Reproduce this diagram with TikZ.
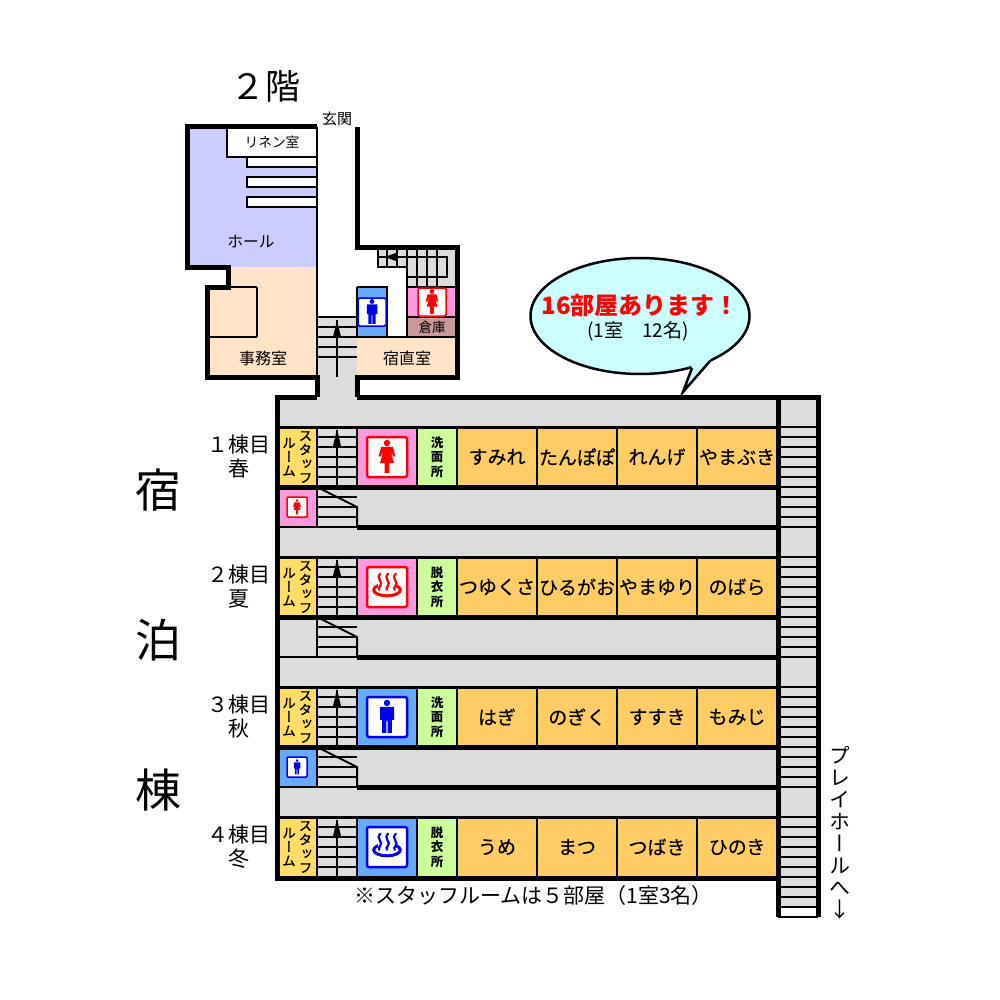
\documentclass[tikz,border=0pt]{standalone}
\usepackage{fontspec}
\usetikzlibrary{shapes.geometric}
\setmainfont{Noto Sans CJK JP}
\newfontfamily\vfont[RawFeature=+vert]{Noto Sans CJK JP}
\newfontfamily\vmedfont[RawFeature=+vert,FakeBold=1.2]{Noto Sans CJK JP}
\newfontfamily\medfont[FakeBold=0.4]{Noto Sans CJK JP}
\definecolor{hallc}{HTML}{CCCCFF}
\definecolor{peach}{HTML}{FFE4C8}
\definecolor{grayc}{HTML}{DCDCDC}
\definecolor{pinkc}{HTML}{FF99DD}
\definecolor{bluec}{HTML}{66AAFF}
\definecolor{brownc}{HTML}{CC9999}
\definecolor{yellowc}{HTML}{FFDD66}
\definecolor{greenc}{HTML}{CCFF99}
\definecolor{roomc}{HTML}{FFCC66}
\definecolor{balloonc}{HTML}{CCFFFF}
\definecolor{iconblue}{HTML}{0000EE}
\definecolor{iconred}{HTML}{FF0000}
\tikzset{
  wall/.style={line width=5pt,line cap=butt,line join=miter},
  mid/.style={line width=3pt},
  thin line/.style={line width=2pt},
  lbl/.style={inner sep=0pt,align=center,text=black,execute at begin node={\lineskiplimit=-30pt\relax}},
  roomlbl/.style={lbl,font=\medfont\fontsize{19}{19}\selectfont},
  wash/.style={lbl,font=\bfseries\fontsize{12.5}{14.5}\selectfont},
  staff/.style={lbl,font=\vmedfont\fontsize{13.5}{14}\selectfont},
  floorlbl/.style={lbl,font=\fontsize{21}{24}\selectfont},
  kanji/.style={lbl,font=\fontsize{46}{46}\selectfont},
  woman/.pic={
    \fill (0,-1) circle (.23);
    \fill (-.42,-.72) -- (.42,-.72) -- (.6,-.05) -- (.46,-.03) -- (.27,-.42) -- (.5,.43) -- (.17,.43) -- (.17,1.14) -- (-.17,1.14) -- (-.17,.43) -- (-.5,.43) -- (-.27,-.42) -- (-.46,-.03) -- (-.6,-.05) -- cycle;
  },
  man/.pic={
    \fill (0,-1) circle (.23);
    \fill[rounded corners=.06] (-.5,-.72) -- (.5,-.72) -- (.5,.2) -- (.34,.2) -- (.34,1.14) -- (.04,1.14) -- (.04,.3) -- (-.04,.3) -- (-.04,1.14) -- (-.34,1.14) -- (-.34,.2) -- (-.5,.2) -- cycle;
  },
  onsen/.pic={
    \draw[line width=3pt] (0,.21) ellipse [x radius=.95,y radius=.42];
    \fill[white] (-.62,-.4) rectangle (.62,-.02);
    \foreach \dx in {-.55,0,.55}{
      \draw[line width=2.2pt,line cap=round] (\dx+.08,-.95) .. controls (\dx-.3,-.6) and (\dx+.35,-.35) .. (\dx+.05,-.05) .. controls (\dx-.05,.05) .. (\dx,.2);
    }
  },
}
\newcommand{\floorrow}[6]{%
  % #1 top y, #2 label, #3 fill, #4 icon pic, #5 icon colour, #6 wash label
  \fill[yellowc] (278,#1) rectangle (317,#1+60);
  \fill[grayc] (317,#1) rectangle (357,#1+60);
  \fill[#3] (357,#1) rectangle (417,#1+60);
  \fill[greenc] (417,#1) rectangle (457,#1+60);
  \fill[roomc] (457,#1) rectangle (777,#1+60);
  \foreach \dy in {10,20,...,50}{\draw[thin line] (317,#1+\dy) -- (357,#1+\dy);}
  \draw[thin line] (337,#1+3) -- (337,#1+60);
  \fill (337,#1+2) -- (341,#1+19) -- (333,#1+19) -- cycle;
  \foreach \x in {317,357,417,457,537,617,697}{\draw[thin line] (\x,#1) -- (\x,#1+60);}
  \node[staff] (st#1) at (305.5,#1+30) {ス\\タ\\ッ\\フ};
  \node[staff] (ru#1) at (289,#1+30) {ル\\ー\\ム};
  \draw[line width=2.5pt,#5,fill=white,rounded corners=2pt] (367,#1+10) rectangle (407,#1+50);
  \pic[#5,scale=14] at (387,#1+30) {#4};
  \node[wash] (wa#1) at (437,#1+30) {#6};
  \node[floorlbl] (fl#1) at (239,#1+30) {#2};
}
\begin{document}
\begin{tikzpicture}[x=1pt,y=-1pt]
\useasboundingbox (0,0) rectangle (1000,1000);
\fill[white] (0,0) rectangle (1000,1000);
%% ---------- second floor ----------
\fill[hallc] (187,127) rectangle (317,267);
\fill[peach] (228,267) rectangle (317,287);
\fill[peach] (207,287) rectangle (317,377);
\fill[peach] (357,337) rectangle (457,377);
\fill[grayc] (317,317) rectangle (357,397);
\fill[grayc] (378,247) rectangle (457,267);
\fill[grayc] (407,247) rectangle (457,287);
\fill[pinkc] (407,287) rectangle (457,317);
\fill[brownc] (407,317) rectangle (457,337);
\fill[bluec] (357,287) rectangle (387,337);
% linen room and shelves
\draw[thin line,fill=white] (317,127) -- (227,127) -- (227,157) -- (317,157);
\foreach \y in {157,177,197}{\draw[thin line,fill=white] (317,\y) -- (247,\y) -- (247,\y+10) -- (317,\y+10);}
% thin partitions
\draw[thin line] (317,127) -- (317,377);
\draw[thin line] (207,337) -- (257,337);
\draw[thin line] (257,287) -- (257,337);
\draw[thin line] (207,287) -- (257,287);
\draw[thin line] (357,337) -- (457,337);
\draw[thin line] (357,287) -- (387,287) -- (387,337);
\draw[thin line] (357,287) -- (357,337);
\draw[thin line] (407,247) -- (407,337);
\draw[thin line] (407,287) -- (457,287);
\draw[thin line] (407,317) -- (457,317);
% central stairs
\foreach \y in {317,327,337,347,357}{\draw[thin line] (317,\y) -- (357,\y);}
\draw[thin line] (337,320) -- (337,377);
\fill (337,320) -- (341,337) -- (333,337) -- cycle;
% upper right stairs
\draw[thin line] (378,247) -- (378,267) -- (407,267);
\draw[thin line] (378,257) -- (447,257) -- (447,277) -- (407,277);
\foreach \x in {387,397}{\draw[thin line] (\x,247) -- (\x,267);}
\foreach \x in {417,427,437}{\draw[thin line] (\x,247) -- (\x,287);}
\fill (385,257) -- (397,252.5) -- (397,261.5) -- cycle;
% outer walls
\draw[wall] (317,127) -- (187,127) -- (187,267) -- (228,267) -- (228,287) -- (207,287) -- (207,377) -- (317,377) -- (317,397);
\draw[wall] (357,127) -- (357,247) -- (457,247) -- (457,377) -- (357,377) -- (357,397);
% icons
\draw[line width=1.5pt,iconblue,fill=white,rounded corners=1.5pt] (358,298) rectangle (386,326);
\pic[iconblue,scale=10.5] at (372,312) {man};
\draw[line width=1.5pt,iconred,fill=white,rounded corners=1.5pt] (418,288) rectangle (446,316);
\pic[iconred,scale=10.5] at (432,302) {woman};
%% ---------- lodging wing ----------
\fill[grayc] (278,397) rectangle (778,877);
\fill[grayc] (778,397) rectangle (818,907);
\floorrow{427}{１棟目\\春}{pinkc}{woman}{iconred}{洗\\面\\所}
\floorrow{557}{２棟目\\夏}{pinkc}{onsen}{iconred}{脱\\衣\\所}
\floorrow{687}{３棟目\\秋}{bluec}{man}{iconblue}{洗\\面\\所}
\floorrow{817}{４棟目\\冬}{bluec}{onsen}{iconblue}{脱\\衣\\所}
% sub rooms
\fill[pinkc] (278,487) rectangle (317,527);
\fill[bluec] (278,747) rectangle (317,787);
\draw[line width=1.5pt,iconred,fill=white,rounded corners=1pt] (287,497) rectangle (307,517);
\pic[iconred,scale=6.5] at (297,507) {woman};
\draw[line width=1.5pt,iconblue,fill=white,rounded corners=1pt] (287,757) rectangle (307,777);
\pic[iconblue,scale=6.5] at (297,767) {man};
% half stairs
\foreach \y in {487,617,747}{
  \draw[thin line] (317,\y) -- (317,\y+40);
  \draw[thin line] (317,\y) -- (357,\y+20) -- (357,\y+40);
  \foreach \dy in {10,20,30}{\draw[thin line] (317,\y+\dy) -- (357,\y+\dy);}
  \draw[thin line] (278,\y+40) -- (357,\y+40);
  \draw[wall] (357,\y+40) -- (778,\y+40);
  \draw[wall] (278,\y) -- (778,\y);
}
\draw[mid] (278,427) -- (778,427);
\draw[mid] (278,557) -- (778,557);
\draw[mid] (278,687) -- (778,687);
\draw[mid] (278,817) -- (778,817);
% right stairs
\foreach \s in {427,557,687,817}{
  \foreach \dy in {0,10,...,100}{\draw[thin line] (778,\s+\dy) -- (818,\s+\dy);}
}
\draw[thin line] (778,907) -- (818,907);
% walls
\draw[wall] (317,397) -- (277.5,397) -- (277.5,878.5) -- (778,878.5);
\draw[wall] (357,397) -- (818,397) -- (818,917);
\draw[wall] (778,397) -- (778,917);
% balloon
\node[ellipse,draw,line width=2.5pt,fill=balloonc,minimum width=219pt,minimum height=116pt,inner sep=0pt] (balloon) at (640,316) {};
\fill[balloonc] (680,355) -- (692,367) -- (683,390) -- (710,360) -- (715,345) -- cycle;
\coordinate (tipA) at (692,368);
\coordinate (tip) at (683,392);
\coordinate (tipB) at (710,361);
\draw[line width=2.5pt,line join=miter] (tipA) -- (tip) -- (tipB);
\node[lbl,text=red,font=\bfseries\fontsize{24}{24}\selectfont] (t16) at (640,305) {16部屋あります！};
\node[lbl,font=\fontsize{19}{19}\selectfont] (t1) at (638,331) {(1室　12名)};
% labels
\node[lbl,font=\fontsize{35}{35}\selectfont] (f2) at (265,86) {２階};
\node[lbl,font=\fontsize{15}{15}\selectfont] (gen) at (337,119) {玄関};
\node[lbl,font=\fontsize{13.7}{14}\selectfont] (lin) at (272,142) {リネン室};
\node[lbl,font=\fontsize{15.7}{16}\selectfont] (hall) at (251,242) {ホール};
\node[lbl,font=\fontsize{16}{16}\selectfont] (jim) at (263,358) {事務室};
\node[lbl,font=\fontsize{16}{16}\selectfont] (shu) at (407,358) {宿直室};
\node[lbl,font=\fontsize{13.5}{14}\selectfont] (sou) at (432,327) {倉庫};
\node[kanji] (k1) at (158,490) {宿};
\node[kanji] (k2) at (158,640) {泊};
\node[kanji] (k3) at (158,790) {棟};
\foreach \n/\t/\x/\y in {a/すみれ/497/457,b/たんぽぽ/577/457,c/れんげ/657/457,d/やまぶき/737/457,
  e/つゆくさ/497/587,f/ひるがお/577/587,g/やまゆり/657/587,h/のばら/737/587,
  i/はぎ/497/717,j/のぎく/577/717,k/すすき/657/717,l/もみじ/737/717,
  m/うめ/497/847,n/まつ/577/847,o/つばき/657/847,p/ひのき/737/847}{
  \node[roomlbl] (r\n) at (\x,\y) {\t};
}
\node[lbl,anchor=west,font=\fontsize{21}{21}\selectfont] (note) at (354,896) {※スタッフルームは５部屋（1室3名）};
\node[lbl,font=\vfont\fontsize{21}{22}\selectfont] (play) at (840,833) {プ\\レ\\イ\\ホ\\ー\\ル\\へ\\{\rmfamily ↓}};
\end{tikzpicture}
\end{document}
